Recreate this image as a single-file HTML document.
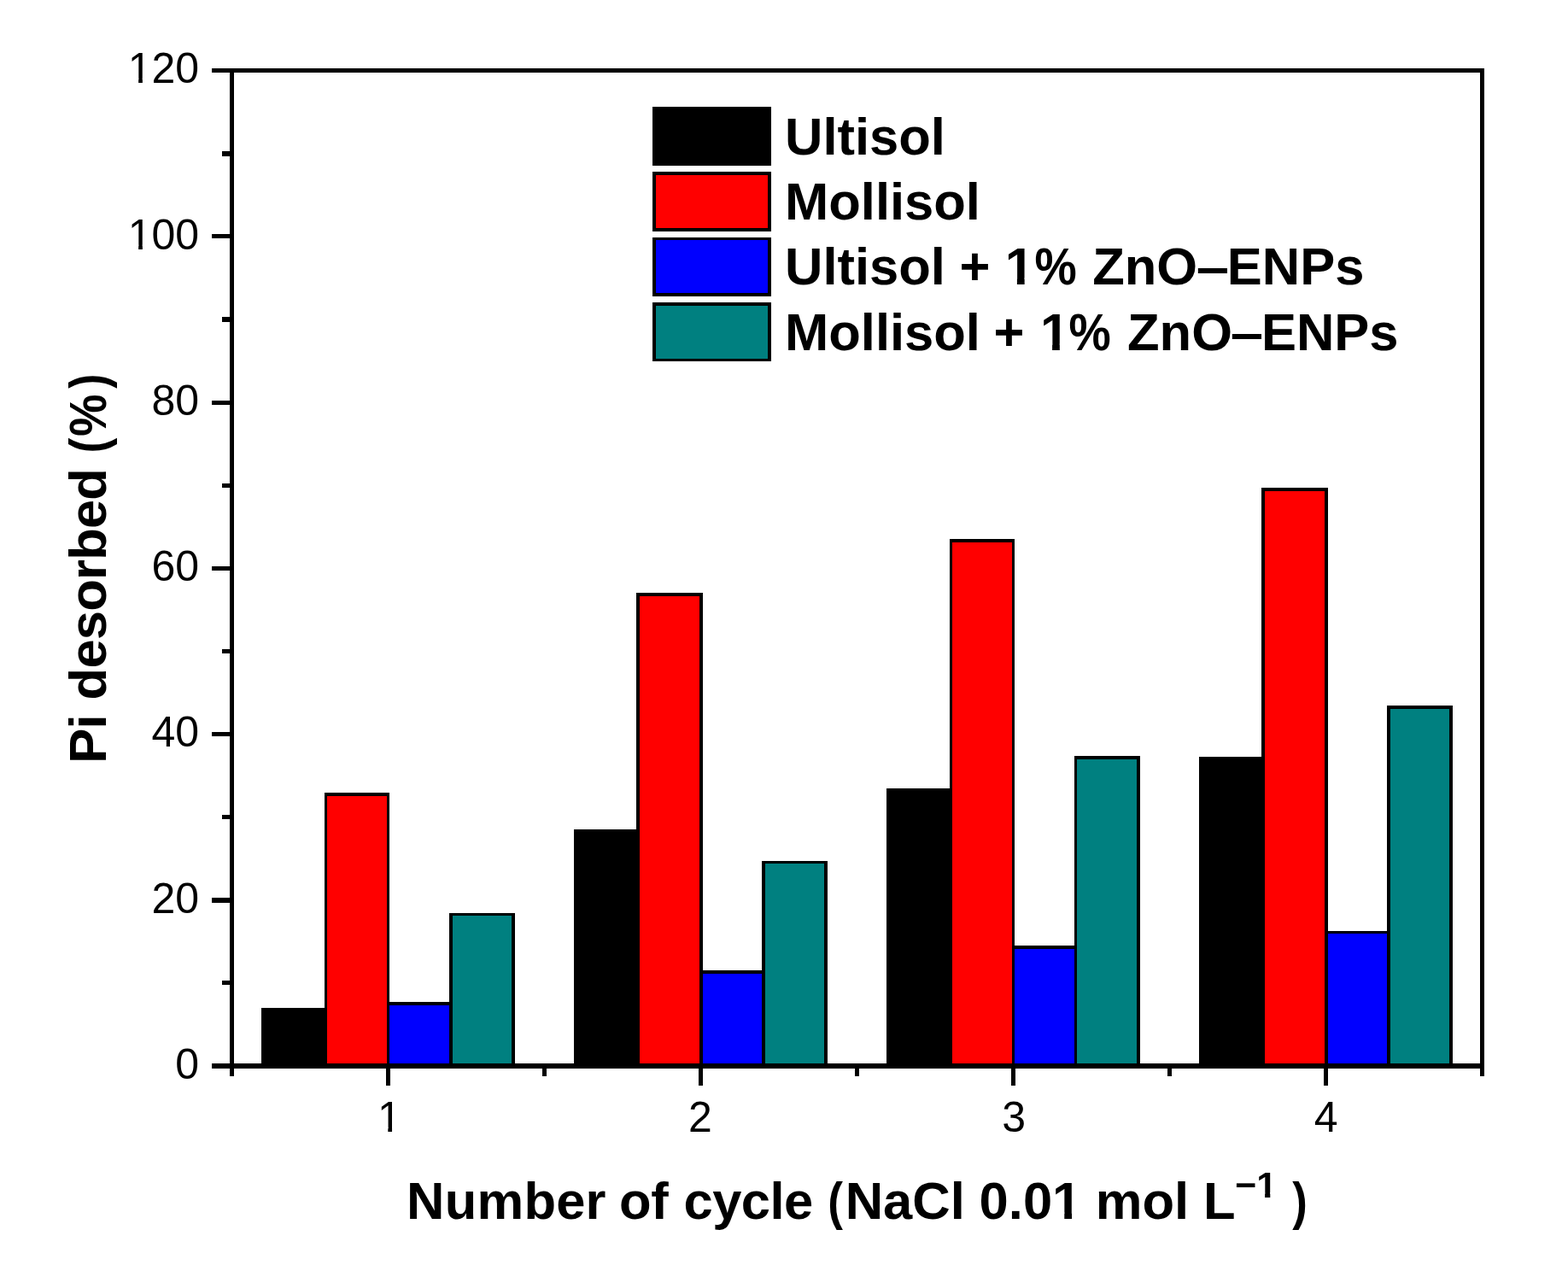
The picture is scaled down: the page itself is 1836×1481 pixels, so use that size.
<!DOCTYPE html>
<html lang="en"><head><meta charset="utf-8"><title>Pi desorbed (%) vs number of cycle</title>
<style>
html,body{margin:0;padding:0;background:#fff;}
body{width:1836px;height:1481px;overflow:hidden;}
svg{display:block;}
text{font-family:"Liberation Sans",sans-serif;fill:#000;white-space:pre;}
.tk{font-size:50px;}
.tt{font-size:61.5px;font-weight:bold;}
</style></head><body>
<svg width="1836" height="1481" viewBox="0 0 1836 1481">
<rect x="0" y="0" width="1836" height="1481" fill="#ffffff"/>
<defs><clipPath id="c1" clipPathUnits="userSpaceOnUse"><path clip-rule="evenodd" d="M-120 -60H20V20H-120ZM-81.61 -5.14H-71V2H-81.61ZM-66.28 -5.14H-56.06V2H-66.28Z"/></clipPath><clipPath id="c2" clipPathUnits="userSpaceOnUse"><path clip-rule="evenodd" d="M-20 -60H60V20H-20ZM1.81 -5.14H12.42V2H1.81ZM17.14 -5.14H27.37V2H17.14Z"/></clipPath><clipPath id="c3" clipPathUnits="userSpaceOnUse"><path clip-rule="evenodd" d="M440 1340H1580V1470H440ZM1233.97 1419.42H1246.3V1429.1H1233.97ZM1255.04 1419.42H1266.59V1429.1H1255.04ZM1471.92 1396.11H1481.1V1403.9H1471.92ZM1487.3 1396.11H1495.93V1403.9H1487.3Z"/></clipPath><clipPath id="c4" clipPathUnits="userSpaceOnUse"><path clip-rule="evenodd" d="M900 263.1H1700V363.1H900ZM1178.57 325.42H1190.9V335.1H1178.57ZM1199.64 325.42H1211.19V335.1H1199.64Z"/></clipPath><clipPath id="c5" clipPathUnits="userSpaceOnUse"><path clip-rule="evenodd" d="M900 340.1H1700V440.1H900ZM1219.77 402.42H1232.1V412.1H1219.77ZM1240.84 402.42H1252.39V412.1H1240.84Z"/></clipPath></defs>
<g shape-rendering="crispEdges" fill="#000000">
<g id="bars">
<rect x="306" y="1180" width="77" height="68"/>
<rect x="380" y="928" width="76" height="320"/>
<rect x="383" y="932" width="70" height="316" fill="#ff0000"/>
<rect x="453" y="1173" width="77" height="75"/>
<rect x="456" y="1177" width="70" height="71" fill="#0000ff"/>
<rect x="526" y="1069" width="77" height="179"/>
<rect x="530" y="1072" width="69" height="176" fill="#008080"/>
<rect x="672" y="971" width="77" height="277"/>
<rect x="745" y="694" width="78" height="554"/>
<rect x="749" y="698" width="70" height="550" fill="#ff0000"/>
<rect x="819" y="1136" width="77" height="112"/>
<rect x="823" y="1140" width="69" height="108" fill="#0000ff"/>
<rect x="892" y="1008" width="77" height="240"/>
<rect x="896" y="1011" width="69" height="237" fill="#008080"/>
<rect x="1038" y="923" width="77" height="325"/>
<rect x="1112" y="631" width="76" height="617"/>
<rect x="1115" y="635" width="70" height="613" fill="#ff0000"/>
<rect x="1185" y="1107" width="76" height="141"/>
<rect x="1188" y="1111" width="70" height="137" fill="#0000ff"/>
<rect x="1258" y="885" width="77" height="363"/>
<rect x="1261" y="889" width="70" height="359" fill="#008080"/>
<rect x="1404" y="886" width="77" height="362"/>
<rect x="1477" y="571" width="78" height="677"/>
<rect x="1481" y="575" width="70" height="673" fill="#ff0000"/>
<rect x="1551" y="1090" width="77" height="158"/>
<rect x="1555" y="1093" width="69" height="155" fill="#0000ff"/>
<rect x="1624" y="826" width="77" height="422"/>
<rect x="1628" y="830" width="69" height="418" fill="#008080"/>
</g>
<g id="axes">
<rect x="248" y="80" width="1490" height="5"/>
<rect x="248" y="1245" width="1490" height="6"/>
<rect x="269" y="80" width="5" height="1180"/>
<rect x="1733" y="80" width="5" height="1180"/>
<rect x="260" y="177" width="10" height="6"/>
<rect x="248" y="274" width="22" height="5"/>
<rect x="260" y="371" width="10" height="6"/>
<rect x="248" y="469" width="22" height="5"/>
<rect x="260" y="566" width="10" height="5"/>
<rect x="248" y="663" width="22" height="5"/>
<rect x="260" y="760" width="10" height="5"/>
<rect x="248" y="857" width="22" height="5"/>
<rect x="260" y="954" width="10" height="5"/>
<rect x="248" y="1051" width="22" height="6"/>
<rect x="260" y="1148" width="10" height="5"/>
<rect x="452" y="1250" width="5" height="21"/>
<rect x="635" y="1250" width="5" height="10"/>
<rect x="818" y="1250" width="5" height="21"/>
<rect x="1001" y="1250" width="5" height="10"/>
<rect x="1184" y="1250" width="5" height="21"/>
<rect x="1367" y="1250" width="5" height="10"/>
<rect x="1550" y="1250" width="5" height="21"/>
</g>
<g id="legend-swatches">
<rect x="764" y="125" width="139" height="69"/>
<rect x="764" y="201" width="139" height="70"/>
<rect x="768" y="205" width="131" height="62" fill="#ff0000"/>
<rect x="764" y="278" width="139" height="69"/>
<rect x="768" y="281" width="131" height="62" fill="#0000ff"/>
<rect x="764" y="354" width="139" height="69"/>
<rect x="768" y="358" width="131" height="62" fill="#008080"/>
</g>
</g>
<g class="tk" text-anchor="end">
<text transform="translate(233.16 1262.75)">0</text>
<text transform="translate(233.16 1068.75)">20</text>
<text transform="translate(233.16 874.25)">40</text>
<text transform="translate(233.16 679.75)">60</text>
<text transform="translate(233.16 485.75)">80</text>
<text transform="translate(233.16 291.75)" clip-path="url(#c1)">100</text>
<text transform="translate(233.16 96.75)" clip-path="url(#c1)">120</text>
</g>
<g class="tk">
<text transform="translate(441.9 1325)" clip-path="url(#c2)">1</text>
<text transform="translate(806.1 1325)">2</text>
<text transform="translate(1173.24 1324.75)">3</text>
<text transform="translate(1538.75 1325)">4</text>
</g>
<text class="tt" y="1427.1" clip-path="url(#c3)"><tspan x="476.07" letter-spacing="0.22">Number</tspan> <tspan x="725.1" letter-spacing="-0.35">of</tspan> <tspan x="800.6" letter-spacing="-0.59">cycle</tspan> <tspan x="969.25" textLength="17.7" lengthAdjust="spacingAndGlyphs">(</tspan><tspan x="989.7">NaCl</tspan> <tspan x="1146.6">0.01</tspan> <tspan x="1282.8">mol</tspan> <tspan x="1409">L</tspan><tspan x="1446.1" dy="-25.2" font-size="43">−1</tspan> <tspan x="1513.15" textLength="17.58" lengthAdjust="spacingAndGlyphs" dy="25.2">)</tspan></text>
<text class="tt" transform="translate(124 893.8) rotate(-90)"><tspan x="0" letter-spacing="-0.6">Pi</tspan> <tspan x="74.4" letter-spacing="-0.78">desorbed</tspan> <tspan x="363.3" textLength="17.8" lengthAdjust="spacingAndGlyphs">(</tspan><tspan x="382.8" textLength="49.45" lengthAdjust="spacingAndGlyphs">%</tspan><tspan x="438.95" textLength="17.1" lengthAdjust="spacingAndGlyphs">)</tspan></text>
<g class="tt">
<text y="181"><tspan x="919">Ultisol</tspan></text>
<text y="257"><tspan x="919">Mollisol</tspan></text>
<text y="333.1" clip-path="url(#c4)"><tspan x="919">Ultisol</tspan> <tspan x="1123.5">+</tspan> <tspan x="1176.7">1</tspan><tspan x="1211.42" textLength="49.24" lengthAdjust="spacingAndGlyphs">%</tspan> <tspan x="1279.15">ZnO</tspan><tspan x="1400.7" textLength="38.4" lengthAdjust="spacingAndGlyphs">–</tspan><tspan x="1436.8">ENPs</tspan></text>
<text y="410.1" clip-path="url(#c5)"><tspan x="919">Mollisol</tspan> <tspan x="1163.4">+</tspan> <tspan x="1217.9">1</tspan><tspan x="1251.52" textLength="49.24" lengthAdjust="spacingAndGlyphs">%</tspan> <tspan x="1320.05">ZnO</tspan><tspan x="1440.8" textLength="38.4" lengthAdjust="spacingAndGlyphs">–</tspan><tspan x="1476.9">ENPs</tspan></text>
</g>
</svg>
</body></html>
